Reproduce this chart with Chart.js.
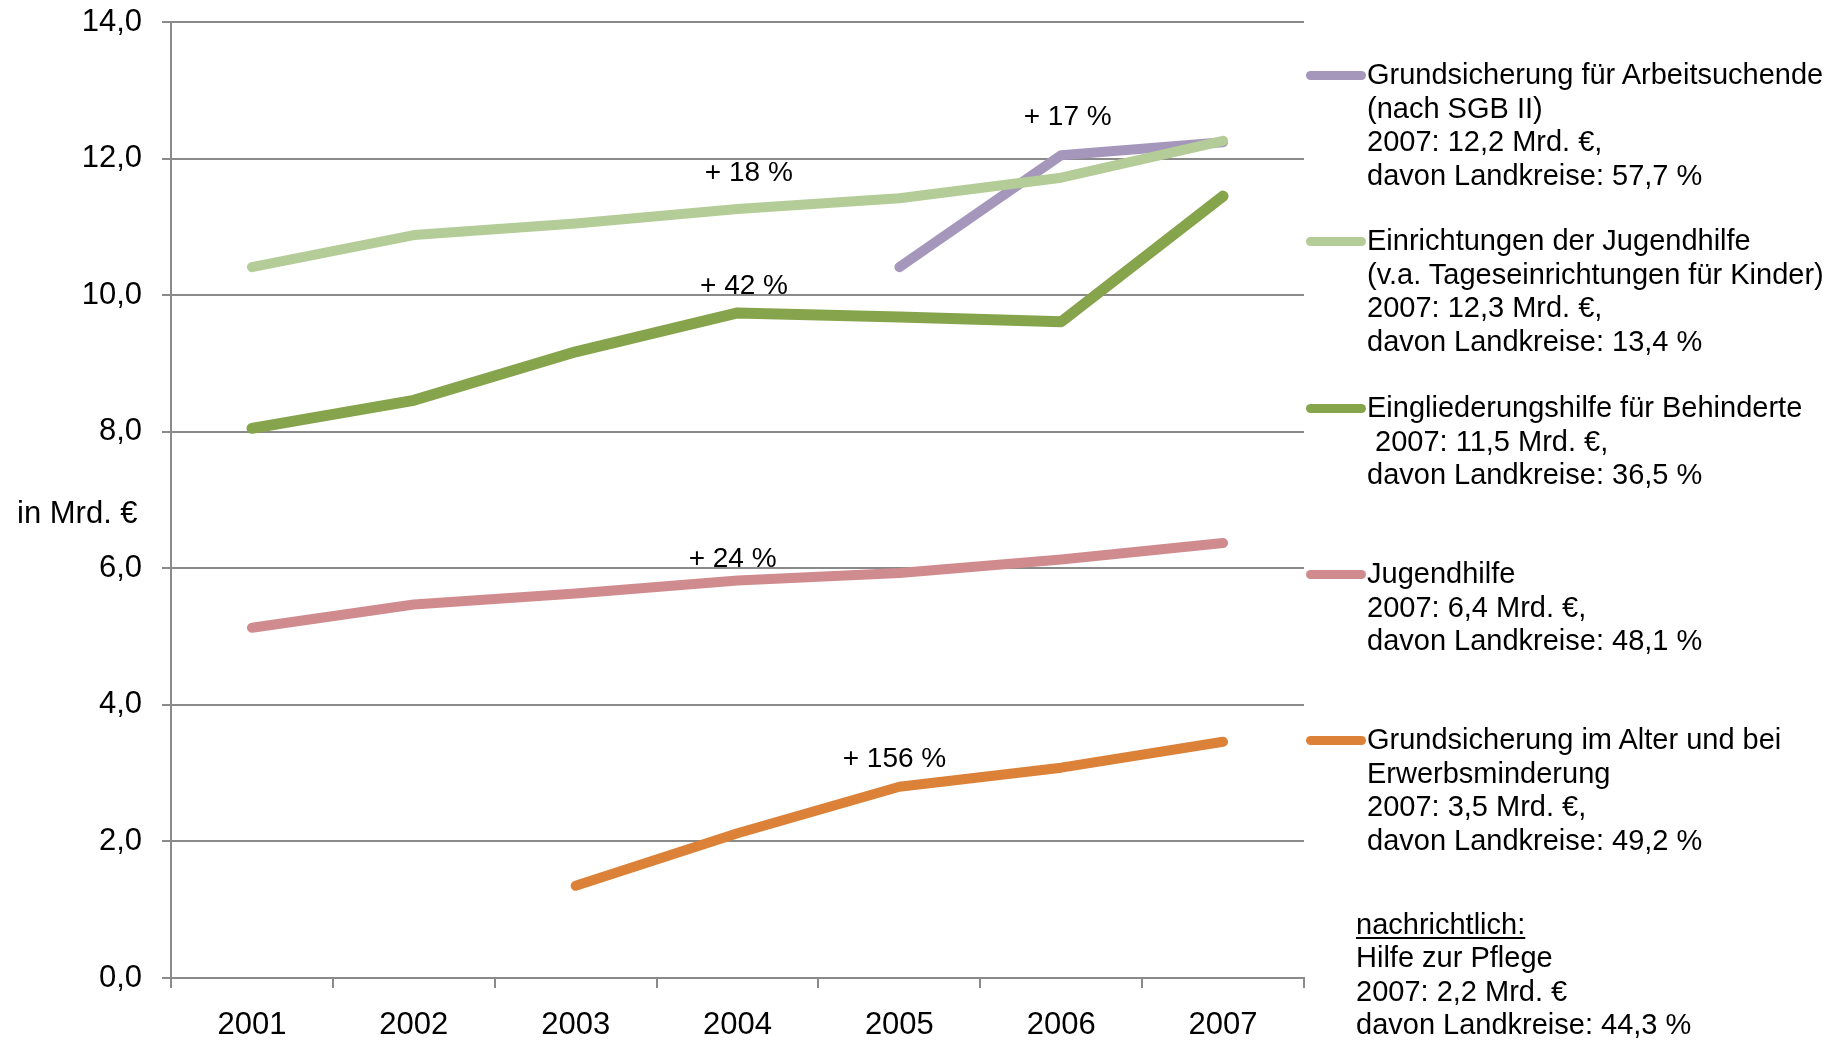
<!DOCTYPE html>
<html>
<head>
<meta charset="utf-8">
<script src="https://cdn.jsdelivr.net/npm/chart.js@4.4.1/dist/chart.umd.min.js"></script>
<style>
    html, body { margin: 0; padding: 0; background: #fff; }
    #wrap { position: relative; width: 1847px; height: 1040px; overflow: hidden; font-family: "Liberation Sans", Arial, sans-serif; color: #000; }
    #chart { position: absolute; left: 0; top: 0; }
    .unit { position: absolute; left: 17px; top: 495px; font-size: 31px; line-height: 36px; white-space: nowrap; }
    .legend-line { position: absolute; left: 1306px; width: 60px; height: 9px; border-radius: 5px; }
    .legend-text { position: absolute; left: 1367px; font-size: 29px; line-height: 33.6px; white-space: pre; }
    .note { position: absolute; left: 1356px; font-size: 29px; line-height: 33.3px; white-space: pre; }
    .note u { text-decoration-thickness: 2px; text-underline-offset: 3px; }
</style>
</head>
<body>
<div id="wrap">
    <canvas id="chart" width="1847" height="1040"></canvas>
    <div class="unit">in Mrd. €</div>
    <div id="legend"></div>
    <div class="note" style="top: 908px;"><u>nachrichtlich:</u>
Hilfe zur Pflege
2007: 2,2 Mrd. €
davon Landkreise: 44,3 %</div>
</div>
<script>
const years = ['2001', '2002', '2003', '2004', '2005', '2006', '2007'];

// Mrd. Euro
const arbeitsuchende = [null, null, null, null, 10.41, 12.05, 12.24];
const einrichtungenJugendhilfe = [10.41, 10.88, 11.05, 11.26, 11.42, 11.72, 12.26];
const eingliederungshilfe = [8.05, 8.46, 9.17, 9.74, 9.68, 9.61, 11.45];
const jugendhilfe = [5.13, 5.47, 5.63, 5.82, 5.93, 6.13, 6.37];
const grundsicherungAlter = [null, null, 1.35, 2.12, 2.80, 3.08, 3.46];

const seriesNames = [
    'Grundsicherung für Arbeitsuchende',
    'Einrichtungen der Jugendhilfe',
    'Eingliederungshilfe für Behinderte',
    'Jugendhilfe',
    'Grundsicherung im Alter und bei Erwerbsminderung'
];
const seriesColors = ['#A597BB', '#B4CC97', '#86A44B', '#D08B8F', '#DC8138'];

const legendTexts = [
    'Grundsicherung für Arbeitsuchende\n(nach SGB II)\n2007: 12,2 Mrd. €,\ndavon Landkreise: 57,7 %',
    'Einrichtungen der Jugendhilfe\n(v.a. Tageseinrichtungen für Kinder)\n2007: 12,3 Mrd. €,\ndavon Landkreise: 13,4 %',
    'Eingliederungshilfe für Behinderte\n 2007: 11,5 Mrd. €,\ndavon Landkreise: 36,5 %',
    'Jugendhilfe\n2007: 6,4 Mrd. €,\ndavon Landkreise: 48,1 %',
    'Grundsicherung im Alter und bei\nErwerbsminderung\n2007: 3,5 Mrd. €,\ndavon Landkreise: 49,2 %'
];
const legendCenters = [75, 241, 408, 574, 740];

// growth labels: text, category index, value
const growthLabels = [
    { text: '+ 17 %', at: 5.04, value: 12.6 },
    { text: '+ 18 %', at: 3.07, value: 11.79 },
    { text: '+ 42 %', at: 3.04, value: 10.13 },
    { text: '+ 24 %', at: 2.97, value: 6.13 },
    { text: '+ 156 %', at: 3.97, value: 3.21 }
];

const legendEl = document.getElementById('legend');
legendTexts.forEach((txt, i) => {
    const line = document.createElement('div');
    line.className = 'legend-line';
    line.style.background = seriesColors[i];
    line.style.top = (legendCenters[i] - 4.5) + 'px';
    legendEl.appendChild(line);
    const t = document.createElement('div');
    t.className = 'legend-text';
    t.style.top = (legendCenters[i] - 16.8) + 'px';
    t.textContent = txt;
    legendEl.appendChild(t);
});

const growthPlugin = {
    id: 'growthLabels',
    afterDatasetsDraw(chart) {
        const ctx = chart.ctx;
        const x = chart.scales.x;
        const y = chart.scales.y;
        ctx.save();
        ctx.font = '28px "Liberation Sans Narrow", "Liberation Sans", sans-serif';
        ctx.fillStyle = '#000';
        ctx.textAlign = 'center';
        ctx.textBaseline = 'middle';
        growthLabels.forEach(g => {
            ctx.fillText(g.text, x.getPixelForValue(g.at), y.getPixelForValue(g.value));
        });
        ctx.restore();
    }
};

const allSeries = [arbeitsuchende, einrichtungenJugendhilfe, eingliederungshilfe, jugendhilfe, grundsicherungAlter];
const drawOrder = [2, 1, 3, 4, 5];

const gridColor = '#8A8A8A';

new Chart(document.getElementById('chart'), {
    type: 'line',
    data: {
        labels: years,
        datasets: allSeries.map((data, i) => ({
            label: seriesNames[i],
            data: data,
            borderColor: seriesColors[i],
            backgroundColor: seriesColors[i],
            borderWidth: i === 2 ? 11 : 10,
            borderCapStyle: 'round',
            borderJoinStyle: 'round',
            pointRadius: 0,
            tension: 0,
            fill: false,
            spanGaps: false,
            order: drawOrder[i]
        }))
    },
    options: {
        responsive: false,
        animation: false,
        events: [],
        layout: { padding: { top: 22, right: 543, bottom: 0, left: 0 } },
        plugins: {
            legend: { display: false },
            tooltip: { enabled: false },
            title: { display: false }
        },
        scales: {
            x: {
                type: 'category',
                offset: true,
                afterFit(scale) {
                    scale.height = 62;
                    scale.paddingLeft = 0;
                    scale.paddingRight = 0;
                },
                grid: {
                    offset: true,
                    drawOnChartArea: false,
                    drawTicks: true,
                    tickLength: 10,
                    color: gridColor,
                    lineWidth: 2
                },
                border: { display: true, color: gridColor, width: 2 },
                ticks: {
                    color: '#000',
                    padding: 19,
                    maxRotation: 0,
                    font: { family: '"Liberation Sans", Arial, sans-serif', size: 31 }
                }
            },
            y: {
                min: 0,
                max: 14,
                afterFit(scale) {
                    scale.width = 171;
                    scale.paddingTop = 0;
                    scale.paddingBottom = 0;
                },
                grid: {
                    color: gridColor,
                    lineWidth: 2,
                    tickLength: 9
                },
                border: { display: true, color: gridColor, width: 2 },
                ticks: {
                    stepSize: 2,
                    color: '#000',
                    padding: 20,
                    font: { family: '"Liberation Sans", Arial, sans-serif', size: 31 },
                    callback: v => v.toFixed(1).replace('.', ',')
                }
            }
        }
    },
    plugins: [growthPlugin]
});
</script>
</body>
</html>
